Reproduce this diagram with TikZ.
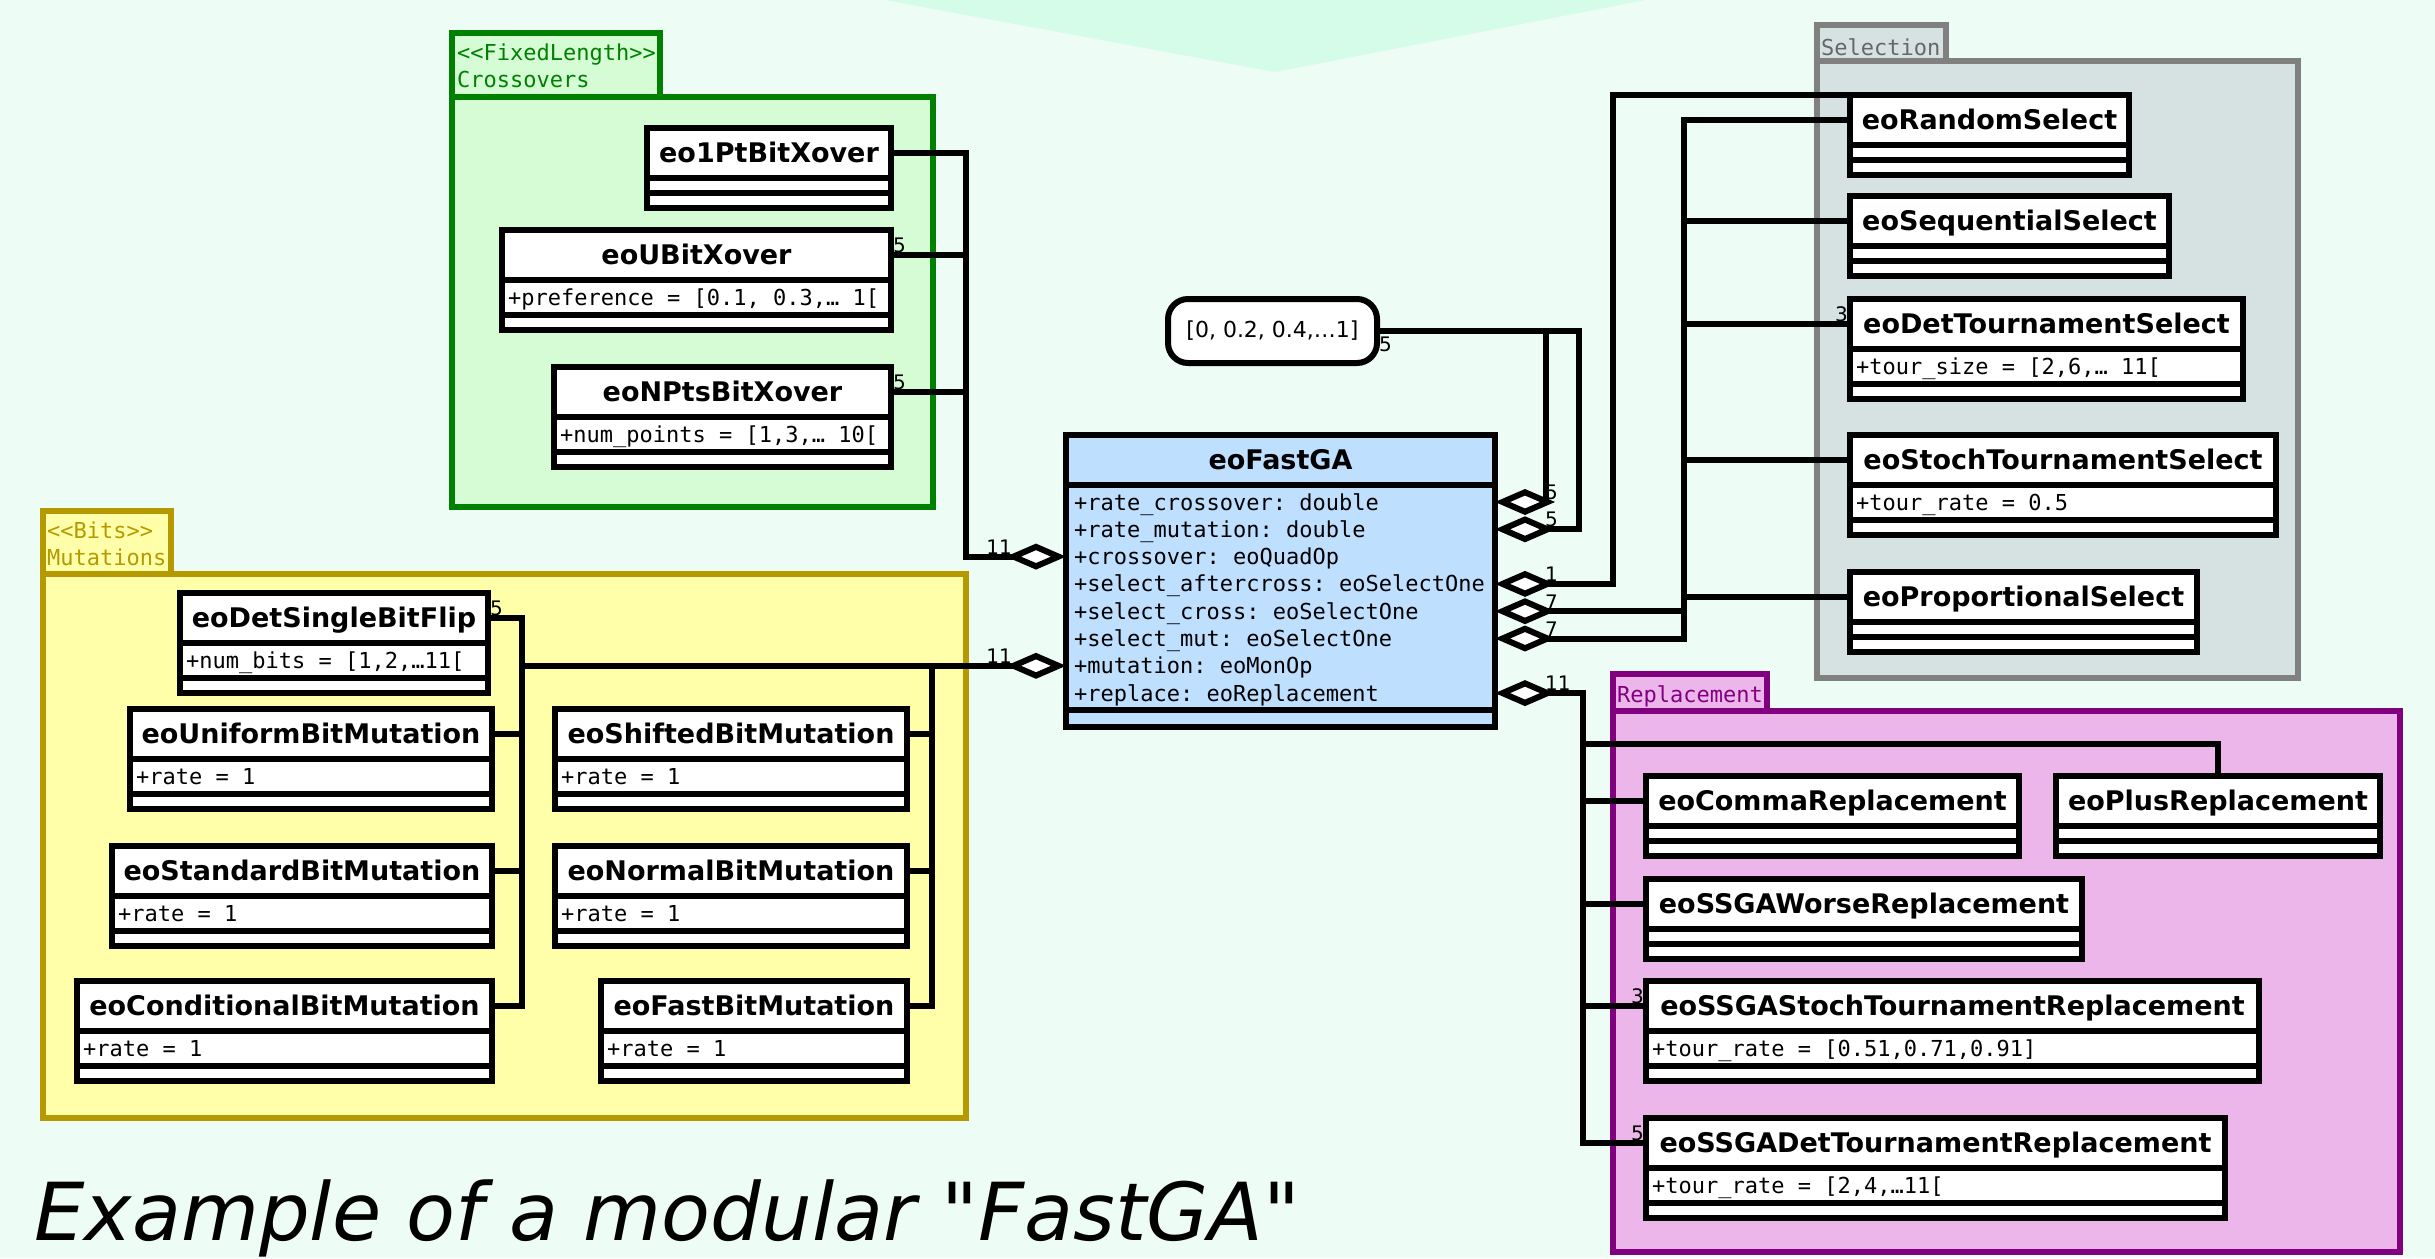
\documentclass[tikz,border=0pt]{standalone}
\usepackage{fontspec}
\setmainfont{DejaVu Sans}[Ligatures=TeXOff]
\setmonofont{DejaVu Sans Mono}[Ligatures=TeXOff]
\usetikzlibrary{arrows.meta}
\definecolor{bgmint}{RGB}{237,252,244}
\definecolor{topmint}{RGB}{213,251,233}
\definecolor{xoline}{RGB}{0,128,0}
\definecolor{xofill}{RGB}{213,252,213}
\definecolor{mutline}{RGB}{181,153,0}
\definecolor{mutfill}{RGB}{255,255,170}
\definecolor{selline}{RGB}{128,128,128}
\definecolor{selfill}{RGB}{214,225,225}
\definecolor{repline}{RGB}{128,0,128}
\definecolor{repfill}{RGB}{237,182,234}
\definecolor{gafill}{RGB}{191,223,255}
\tikzset{
  classhead/.style={draw, line width=6pt, fill=white, outer sep=0pt, inner sep=0pt, minimum height=50pt, font=\fontsize{27}{32}\selectfont\bfseries, text height=19.5pt, text depth=0pt},
  classcomp/.style={draw, line width=6pt, fill=white, outer sep=0pt, inner sep=0pt},
  attrtext/.style={anchor=west, inner sep=0pt, font=\fontsize{22}{26}\selectfont\ttfamily, text height=16pt, text depth=0pt},
  pkgframe/.style={line width=6pt},
  pkglabel/.style={anchor=north west, inner sep=0pt, align=left, font=\fontsize{22}{27}\selectfont\ttfamily},
  conn/.style={line width=6pt},
  agg/.style={conn, -{Diamond[fill=white, length=60pt, width=26pt]}},
  mult/.style={inner sep=2pt, font=\fontsize{20}{24}\selectfont}
}
\newcommand{\umlclass}[5]{%
  \node[classhead, minimum width=#3, anchor=north west] (#1) at #2 {#4};
  \node[classcomp, minimum width=#3, minimum height=35pt, anchor=north west] (#1-a) at (#1.south west) {};
  \node[attrtext] (#1-t) at ([xshift=6pt]#1-a.west) {#5};
  \node[classcomp, minimum width=#3, minimum height=15pt, anchor=north west] (#1-m) at (#1-a.south west) {};
}
\newcommand{\umlempty}[4]{%
  \node[classhead, minimum width=#3, anchor=north west] (#1) at #2 {#4};
  \node[classcomp, minimum width=#3, minimum height=15pt, anchor=north west] (#1-a) at (#1.south west) {};
  \node[classcomp, minimum width=#3, minimum height=15pt, anchor=north west] (#1-m) at (#1-a.south west) {};
}

\begin{document}
\begin{tikzpicture}[x=1pt,y=-1pt]
\useasboundingbox (0,0) rectangle (2435,1258);
\fill[bgmint] (0,0) rectangle (2435,1258);
\fill[topmint] (885,0) -- (1645,0) -- (1275,72) -- cycle;

\draw[pkgframe, draw=xoline, fill=xofill] (452,97) rectangle (933,507);
\draw[pkgframe, draw=xoline, fill=xofill] (452,33) rectangle (660,97);
\node[pkglabel, text=xoline] (xolab) at (457,44) {<<FixedLength>>\\Crossovers};

\draw[pkgframe, draw=mutline, fill=mutfill] (43,574) rectangle (966,1118);
\draw[pkgframe, draw=mutline, fill=mutfill] (43,511) rectangle (171,574);
\node[pkglabel, text=mutline] (mutlab) at (47,522) {<<Bits>>\\Mutations};

\draw[pkgframe, draw=selline, fill=selfill] (1817,61) rectangle (2298,678);
\draw[pkgframe, draw=selline, fill=selfill] (1817,25) rectangle (1946,61);
\node[pkglabel, text=selline!80!black] (sellab) at (1821,38) {Selection};

\draw[pkgframe, draw=repline, fill=repfill] (1613,711) rectangle (2400,1252);
\draw[pkgframe, draw=repline, fill=repfill] (1613,674) rectangle (1767,711);
\node[pkglabel, text=repline] (replab) at (1617,685) {Replacement};

\umlempty{xo1pt}{(647,128)}{244pt}{eo1PtBitXover}
\umlclass{xou}{(502,230)}{389pt}{eoUBitXover}{+preference = [0.1, 0.3,… 1[}
\umlclass{xonpts}{(554,367)}{337pt}{eoNPtsBitXover}{+num\_points = [1,3,… 10[}

\umlclass{detflip}{(180,593)}{308pt}{eoDetSingleBitFlip}{+num\_bits = [1,2,…11[}
\umlclass{unif}{(130,709)}{362pt}{eoUniformBitMutation}{+rate = 1}
\umlclass{std}{(112,846)}{380pt}{eoStandardBitMutation}{+rate = 1}
\umlclass{cond}{(77,981)}{415pt}{eoConditionalBitMutation}{+rate = 1}
\umlclass{shift}{(555,709)}{352pt}{eoShiftedBitMutation}{+rate = 1}
\umlclass{normal}{(555,846)}{352pt}{eoNormalBitMutation}{+rate = 1}
\umlclass{fastbit}{(601,981)}{306pt}{eoFastBitMutation}{+rate = 1}

\umlempty{rnd}{(1850,95)}{279pt}{eoRandomSelect}
\umlempty{seq}{(1850,196)}{319pt}{eoSequentialSelect}
\umlclass{dettour}{(1850,299)}{393pt}{eoDetTournamentSelect}{+tour\_size = [2,6,… 11[}
\umlclass{stochtour}{(1850,435)}{426pt}{eoStochTournamentSelect}{+tour\_rate = 0.5}
\umlempty{prop}{(1850,572)}{347pt}{eoProportionalSelect}

\umlempty{comma}{(1646,776)}{373pt}{eoCommaReplacement}
\umlempty{plus}{(2056,776)}{324pt}{eoPlusReplacement}
\umlempty{worse}{(1646,879)}{436pt}{eoSSGAWorseReplacement}
\umlclass{ssgastoch}{(1646,981)}{613pt}{eoSSGAStochTournamentReplacement}{+tour\_rate = [0.51,0.71,0.91]}
\umlclass{ssgadet}{(1646,1118)}{579pt}{eoSSGADetTournamentReplacement}{+tour\_rate = [2,4,…11[}

\node[classhead, fill=gafill, minimum width=429pt, anchor=north west] (fga) at (1066,435) {eoFastGA};
\node[classcomp, fill=gafill, minimum width=429pt, minimum height=225pt, anchor=north west] (fga-a) at (fga.south west) {};
\node[classcomp, fill=gafill, minimum width=429pt, minimum height=17pt, anchor=north west] (fga-m) at (fga-a.south west) {};
\foreach \a [count=\i] in {+rate\_crossover: double, +rate\_mutation: double, +crossover: eoQuadOp, +select\_aftercross: eoSelectOne, +select\_cross: eoSelectOne, +select\_mut: eoSelectOne, +mutation: eoMonOp, +replace: eoReplacement} {
  \node[attrtext] (fga-\i) at (1074,{502+27.3*(\i-1)}) {\a};
  \coordinate (fgaR\i) at (fga.east |- fga-\i);
  \coordinate (fgaL\i) at (fga.west |- fga-\i);
}

\node[draw, line width=6pt, fill=white, rounded corners=20pt, minimum width=209pt, minimum height=64pt, outer sep=0pt, font=\fontsize{22}{26}\selectfont] (vals) at (1272.5,331) {[0, 0.2, 0.4,…1]};

\coordinate (xbus) at (966,0);
\coordinate (mbusL) at (522,0);
\coordinate (mbusR) at (932,0);
\coordinate (vx1) at (1546,0);
\coordinate (vx2) at (1579,0);
\coordinate (sx1) at (1613,0);
\coordinate (sx2) at (1684,0);
\coordinate (rx) at (1583,0);
\coordinate (rtop) at (1583,744);

\draw[agg] (xo1pt.east) -| (xbus |- fgaL3) -- (fgaL3);
\draw[conn] (xou.east) -- (xou.east -| xbus);
\draw[conn] (xonpts.east) -- (xonpts.east -| xbus);

\draw[conn] (detflip.east) -| (mbusL |- cond.east) -- (cond.east);
\draw[conn] (unif.east) -- (unif.east -| mbusL);
\draw[conn] (std.east) -- (std.east -| mbusL);
\draw[conn] (fastbit.east) -| (mbusR |- fgaL7);
\draw[conn] (shift.east) -- (shift.east -| mbusR);
\draw[conn] (normal.east) -- (normal.east -| mbusR);
\draw[agg] (mbusL |- fgaL7) -- (fgaL7);

\draw[agg] (vals.east) -| (vx1 |- fgaR1) -- (fgaR1);
\draw[agg] (vals.east) -| (vx2 |- fgaR2) -- (fgaR2);
\draw[agg] (rnd.north west) -| (sx1 |- fgaR4) -- (fgaR4);
\draw[agg] (rnd.west) -| (sx2 |- fgaR6) -- (fgaR6);
\draw[agg] (sx2 |- fgaR5) -- (fgaR5);
\foreach \c in {seq,dettour,stochtour,prop}
  \draw[conn] (\c.west) -- (\c.west -| sx2);

\draw[agg] (ssgadet.west) -| (rx |- fgaR8) -- (fgaR8);
\foreach \c in {comma,worse,ssgastoch}
  \draw[conn] (\c.west) -- (\c.west -| rx);
\draw[conn] (plus.north) |- (rtop);

\node[mult, anchor=south west] (m1) at (xou.east) {5};
\node[mult, anchor=south west] (m2) at (xonpts.east) {5};
\node[mult, anchor=south west] (m3) at (detflip.east) {5};
\node[mult, anchor=south east] (m4) at ([xshift=-52pt]fgaL3) {11};
\node[mult, anchor=south east] (m5) at ([xshift=-52pt]fgaL7) {11};
\node[mult, anchor=north west] (m6) at ([yshift=-4pt]vals.east) {5};
\node[mult, anchor=south west] (m7) at ([xshift=48pt]fgaR1) {5};
\node[mult, anchor=south west] (m8) at ([xshift=48pt]fgaR2) {5};
\node[mult, anchor=south west] (m9) at ([xshift=48pt]fgaR4) {1};
\node[mult, anchor=south west] (m10) at ([xshift=48pt]fgaR5) {7};
\node[mult, anchor=south west] (m11) at ([xshift=48pt]fgaR6) {7};
\node[mult, anchor=south west] (m12) at ([xshift=48pt]fgaR8) {11};
\node[mult, anchor=south east] (m13) at (dettour.west) {3};
\node[mult, anchor=south east] (m14) at (ssgastoch.west) {3};
\node[mult, anchor=south east] (m15) at (ssgadet.west) {5};

\node[anchor=base west, inner sep=0pt, font=\fontsize{80}{96}\selectfont\itshape] (title) at (34,1240) {Example of a modular "FastGA"};
\end{tikzpicture}
\end{document}
